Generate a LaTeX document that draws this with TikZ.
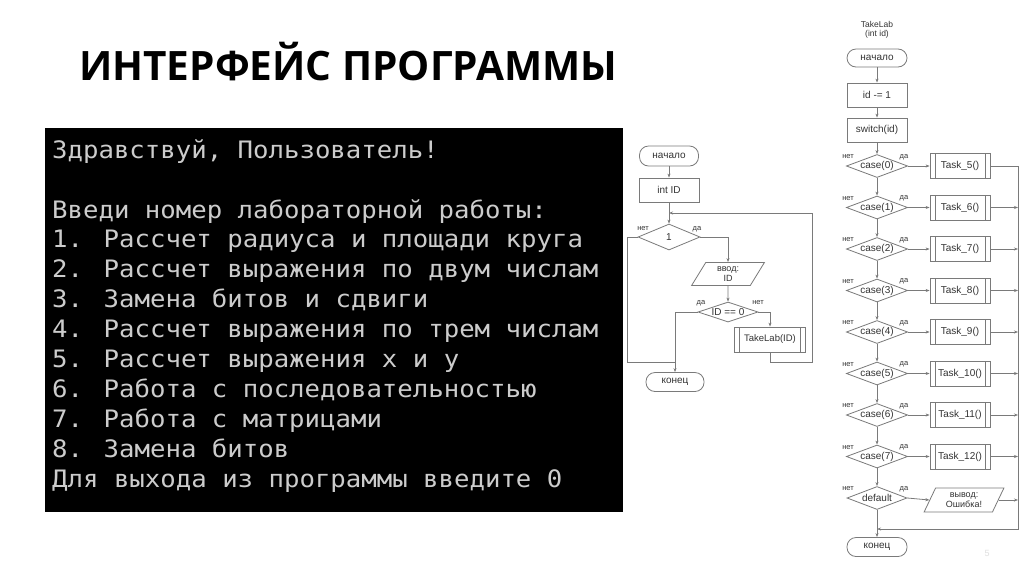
\documentclass[tikz,border=0pt]{standalone}
\usepackage{fontspec}
\setmainfont{Liberation Sans}
\newfontfamily\titlefont{Open Sans}
\newfontfamily\termfont[FakeStretch=1.07]{DejaVu Sans Mono}
\usetikzlibrary{shapes.geometric,arrows.meta}
\definecolor{linegray}{HTML}{7A7A7A}
\definecolor{txtgray}{HTML}{333333}
\definecolor{termtxt}{HTML}{CCCCCC}
\tikzset{
  flow/.style={draw=linegray, line width=0.8pt, text=txtgray, font=\fontsize{10}{10.5}\selectfont, inner sep=1pt},
  termbox/.style={flow, rounded corners=9pt, minimum width=59pt, minimum height=20pt},
  procbox/.style={flow, rectangle, minimum width=60pt, minimum height=24pt},
  predbox/.style={procbox, path picture={
     \draw[linegray, line width=0.8pt] ([xshift=5pt]path picture bounding box.north west) -- ([xshift=5pt]path picture bounding box.south west);
     \draw[linegray, line width=0.8pt] ([xshift=-5pt]path picture bounding box.north east) -- ([xshift=-5pt]path picture bounding box.south east);}},
  iobox/.style={flow, trapezium, trapezium left angle=65, trapezium right angle=115, trapezium stretches=true, align=center, font=\fontsize{9}{9.5}\selectfont},
  diabox/.style={flow, diamond, aspect=3, inner sep=0pt, minimum width=60pt, minimum height=23pt},
  conn/.style={draw=linegray, line width=0.8pt},
  arr/.style={conn, -{Stealth[length=4pt,width=3pt]}},
  lbl/.style={text=txtgray, font=\fontsize{7.5}{7.5}\selectfont, inner sep=0pt},
  termline/.style={anchor=base west, text=termtxt, font=\termfont\fontsize{24}{30}\selectfont, inner sep=0pt},
}
\begin{document}
\begin{tikzpicture}[x=1pt,y=-1pt]
\useasboundingbox[fill=white] (0,0) rectangle (1024,574);

% title
\node[anchor=base west, inner sep=0pt, font=\titlefont\bfseries\fontsize{40.5}{40.5}\selectfont] (title) at (79,80) {ИНТЕРФЕЙС ПРОГРАММЫ};

% terminal
\fill[black] (45,128) rectangle (623,512);
\node[termline] (l1) at (52,158.2) {Здравствуй, Пользователь!};
\node[termline] (l3) at (52,218) {Введи номер лабораторной работы:};
\node[termline] (l4) at (52,247.9) {1. Рассчет радиуса и площади круга};
\node[termline] (l5) at (52,277.8) {2. Рассчет выражения по двум числам};
\node[termline] (l6) at (52,307.7) {3. Замена битов и сдвиги};
\node[termline] (l7) at (52,337.6) {4. Рассчет выражения по трем числам};
\node[termline] (l8) at (52,367.5) {5. Рассчет выражения x и y};
\node[termline] (l9) at (52,397.4) {6. Работа с последовательностью};
\node[termline] (l10) at (52,427.3) {7. Работа с матрицами};
\node[termline] (l11) at (52,457.2) {8. Замена битов};
\node[termline] (l12) at (52,487.1) {Для выхода из программы введите 0};

% flowchart 1
\node[termbox] (s1) at (669,156) {начало};
\node[procbox] (i1) at (669,190) {int ID};
\coordinate (j1) at (669,213);
\node[diabox, minimum width=62pt, minimum height=26pt] (d1) at (669,237) {1};
\node[iobox, minimum width=73pt, minimum height=23pt] (in1) at (728,274) {ввод:\\ID};
\node[diabox, minimum width=60pt, minimum height=20pt] (d2) at (728,312) {ID == 0};
\node[predbox, minimum width=71pt, minimum height=25pt, font=\fontsize{9.5}{10}\selectfont] (t1) at (770,339.5) {TakeLab(ID)};
\node[termbox, minimum width=58pt, minimum height=19pt] (e1) at (675,382) {конец};
\coordinate (loopB) at (812,362);
\coordinate (loopT) at (812,213);
\coordinate (nL1) at (627,237);
\coordinate (nL2) at (627,362);
\coordinate (nJ) at (675,362);

\draw[arr] (s1) -- (i1);
\draw[arr] (i1) -- (d1);
\draw[arr] (t1.south) |- (loopB) -- (loopT) -- (j1);
\draw[conn] (d1.west) -- (nL1) -- (nL2) -- (nJ);
\draw[arr] (d1.east) -| (in1.north);
\draw[arr] (in1) -- (d2);
\draw[arr] (d2.east) -| (t1.north);
\draw[arr] (d2.west) -| (e1.north);
\node[lbl] (n1) at (643,229) {нет};
\node[lbl] (y1) at (697,229) {да};
\node[lbl] (y2) at (701,303) {да};
\node[lbl] (n2) at (758,303) {нет};

% flowchart 2
\node[align=center, text=txtgray, font=\fontsize{8.5}{9}\selectfont, inner sep=0pt] (hdr) at (877,29.5) {TakeLab\\(int id)};
\node[termbox, minimum width=60pt, minimum height=18pt] (s2) at (877,58) {начало};
\node[procbox] (p1) at (877,95) {id -= 1};
\node[procbox] (p2) at (877,130) {switch(id)};
\foreach \i/\y in {0/166,1/207.5,2/249,3/290.5,4/332,5/373.5,6/415,7/456.5}{
  \node[diabox] (c\i) at (877,\y) {case(\i)};
  \pgfmathtruncatemacro{\t}{\i+5}
  \node[predbox, minimum height=25pt] (t\i) at (960,\y) {Task\_\t()};
  \draw[arr] (c\i.east) -- (t\i.west);
  \node[lbl] (cn\i) at (848,\y-9) {нет};
  \node[lbl] (cy\i) at (904,\y-9) {да};
}
\node[diabox] (cd) at (877,498) {default};
\node[lbl] (cnd) at (848,489) {нет};
\node[lbl] (cyd) at (904,489) {да};
\node[iobox, minimum width=80pt, minimum height=24pt] (err) at (964,500) {вывод:\\Ошибка!};
\node[termbox, minimum width=60pt, minimum height=19pt] (e2) at (877,547) {конец};
\coordinate (rt) at (1018,166);
\coordinate (rb) at (1018,529);
\coordinate (jb) at (877,529);

\draw[arr] (s2) -- (p1);
\draw[arr] (p1) -- (p2);
\draw[arr] (p2) -- (c0);
\foreach \a/\b in {0/1,1/2,2/3,3/4,4/5,5/6,6/7}{
  \draw[arr] (c\a) -- (c\b);
}
\draw[arr] (c7) -- (cd);
\draw[arr] (cd) -- (e2);
\draw[arr] (cd.east) -- (err.west);
\draw[arr] (t0.east) -- (rt) -- (rb) -- (jb);
\foreach \i in {1,...,7}{
  \draw[arr] (t\i.east) -- (t\i.east -| rt);
}
\draw[arr] (err.east) -- (err.east -| rt);

\node[text=black!12, font=\fontsize{9}{9}\selectfont, inner sep=0pt] (pg) at (987,553) {5};
\end{tikzpicture}
\end{document}
